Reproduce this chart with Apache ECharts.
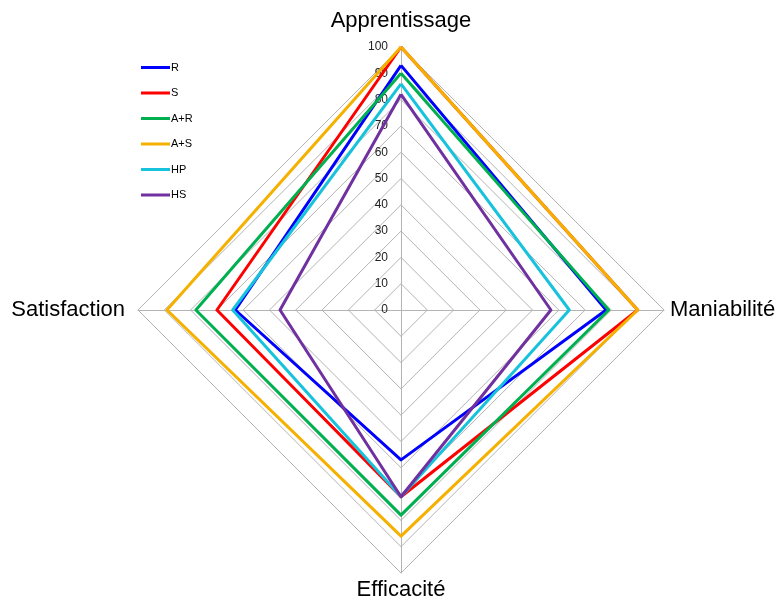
<!DOCTYPE html>
<html>
<head>
<meta charset="utf-8">
<script src="https://cdn.jsdelivr.net/npm/echarts@6/dist/echarts.min.js"></script>
<style>
html,body{margin:0;padding:0;background:#fff;}
#main{width:777px;height:601px;}
</style>
</head>
<body>
<div id="main"></div>
<script>
// axes in the order of the original chart (clockwise from the top)
var axes = ['Apprentissage', 'Maniabilité', 'Efficacité', 'Satisfaction'];
var names = ['R', 'S', 'A+R', 'A+S', 'HP', 'HS'];
var colors = ['#0000ff', '#ff0000', '#00b050', '#f5b000', '#17c3dc', '#7030a0'];
var valR   = [93, 78, 57, 63];
var valS   = [100, 90, 71, 70];
var valAR  = [90, 79, 78, 78];
var valAS  = [100, 90, 86, 89];
var valHP  = [86, 64, 71, 64];
var valHS  = [82, 57, 71, 46];
var ticks = [0, 10, 20, 30, 40, 50, 60, 70, 80, 90, 100];

var allVals = [valR, valS, valAR, valAS, valHP, valHS];
// echarts lays radar axes counterclockwise, so reorder: top, left, bottom, right
var order = [0, 3, 2, 1];

var myChart = echarts.init(document.getElementById('main'));
var seriesData = [];
for (var i = 0; i < names.length; i++) {
	var v = [];
	for (var k = 0; k < order.length; k++) {
		v.push(allVals[i][order[k]]);
	}
	seriesData.push({
		name: names[i],
		value: v,
		symbol: 'none',
		lineStyle: {color: colors[i], width: 3},
		itemStyle: {color: colors[i]}
	});
}
var indicator = [];
for (var k = 0; k < order.length; k++) {
	indicator.push({name: axes[order[k]], min: 0, max: 100});
}

var option = {
	backgroundColor: '#fff',
	animation: false,
	legend: {
		orient: 'vertical',
		left: 136,
		top: 57,
		itemWidth: 29,
		itemHeight: 3,
		itemGap: 14.5,
		icon: 'rect',
		data: names,
		textStyle: {fontSize: 11, color: '#000', fontFamily: 'Liberation Sans', padding: [0, 0, 0, -4]}
	},
	grid: {left: 401, top: 47, width: 10, height: 263},
	xAxis: {type: 'value', show: false},
	yAxis: {
		type: 'value',
		min: 0,
		max: 100,
		interval: 10,
		axisLine: {show: false},
		axisTick: {show: false},
		splitLine: {show: false},
		axisLabel: {fontSize: 12, color: '#222', margin: 13, fontFamily: 'Liberation Sans',
			formatter: function (v) { return ticks.indexOf(v) >= 0 ? String(v) : ''; }}
	},
	radar: {
		center: [401, 310],
		radius: 263,
		startAngle: 90,
		shape: 'polygon',
		splitNumber: 10,
		nameGap: 6,
		axisName: {
			color: '#000', fontSize: 22, fontFamily: 'Liberation Sans',
			formatter: function (name) {
				if (name == 'Apprentissage') return '{t|' + name + '}';
				if (name == 'Satisfaction') return '{l|' + name + '}';
				return name;
			},
			rich: {
				t: {fontSize: 22, color: '#000', fontFamily: 'Liberation Sans', padding: [0, 0, 9, 0]},
				l: {fontSize: 22, color: '#000', fontFamily: 'Liberation Sans', padding: [0, 7, 0, 0]}
			}
		},
		splitLine: {lineStyle: {color: '#b4b4b4', width: 1}},
		splitArea: {show: false},
		axisLine: {lineStyle: {color: '#b4b4b4', width: 1}},
		axisTick: {show: false},
		axisLabel: {show: false},
		indicator: indicator
	},
	series: [{
		type: 'radar',
		data: seriesData
	}]
};
myChart.setOption(option);
</script>
</body>
</html>
